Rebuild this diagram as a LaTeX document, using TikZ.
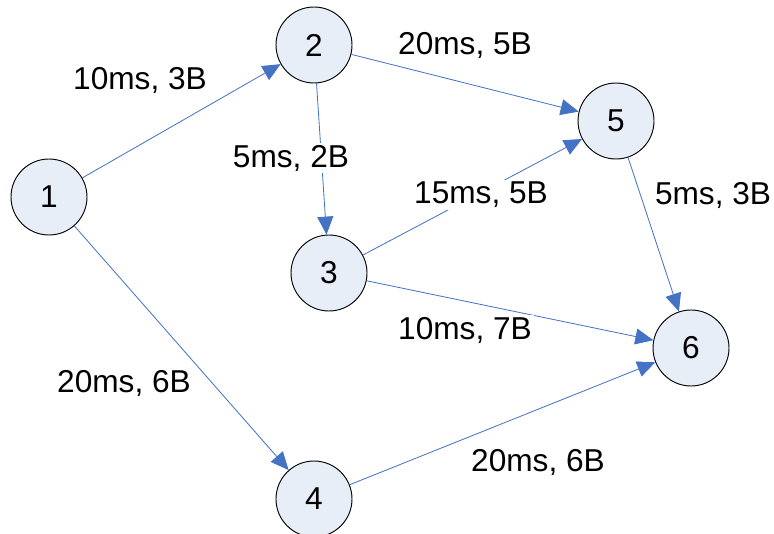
\documentclass[tikz,border=0pt]{standalone}
\usepackage{fontspec}
\setmainfont{Liberation Sans}
\usepackage{tikz}
\usetikzlibrary{arrows.meta}

\definecolor{nodefill}{HTML}{E8EEF7}
\definecolor{edgeblue}{HTML}{4472C4}

\begin{document}
\begin{tikzpicture}[
    state/.style = {circle, draw = black, line width = 0.8pt, fill = nodefill,
                    minimum size = 2.28cm, inner sep = 0pt,
                    font = \fontsize{27}{32}\selectfont},
    edge/.style = {draw = edgeblue, line width = 0.7pt,
                   -{Triangle[length = 0.54cm, width = 0.48cm]}},
    lbl/.style = {fill = white, inner sep = 2pt,
                  font = \fontsize{27}{32}\selectfont}
  ]
    \useasboundingbox (0, 0) rectangle (23.22, 15.99);

    \node[state] (n1) at (1.47, 10.08) {1};
    \node[state] (n2) at (9.42, 14.64) {2};
    \node[state] (n3) at (9.87, 7.80) {3};
    \node[state] (n4) at (9.42, 1.02) {4};
    \node[state] (n5) at (18.48, 12.36) {5};
    \node[state] (n6) at (20.73, 5.55) {6};

    \draw [edge] (n1) -- (n2);
    \draw [edge] (n1) -- (n4);
    \draw [edge] (n2) -- (n5);
    \draw [edge] (n2) -- (n3);
    \draw [edge] (n3) -- (n5);
    \draw [edge] (n3) -- (n6);
    \draw [edge] (n5) -- (n6);
    \draw [edge] (n4) -- (n6);

    \node[lbl] (l12) at (4.20, 13.59) {10ms, 3B};
    \node[lbl] (l25) at (13.95, 14.64) {20ms, 5B};
    \node[lbl] (l23) at (8.73, 11.25) {5ms, 2B};
    \node[lbl] (l35) at (14.43, 10.14) {15ms, 5B};
    \node[lbl] (l56) at (21.39, 10.14) {5ms, 3B};
    \node[lbl] (l36) at (13.95, 6.09) {10ms, 7B};
    \node[lbl] (l14) at (3.72, 4.50) {20ms, 6B};
    \node[lbl] (l46) at (16.14, 2.13) {20ms, 6B};
  \end{tikzpicture}
\end{document}
